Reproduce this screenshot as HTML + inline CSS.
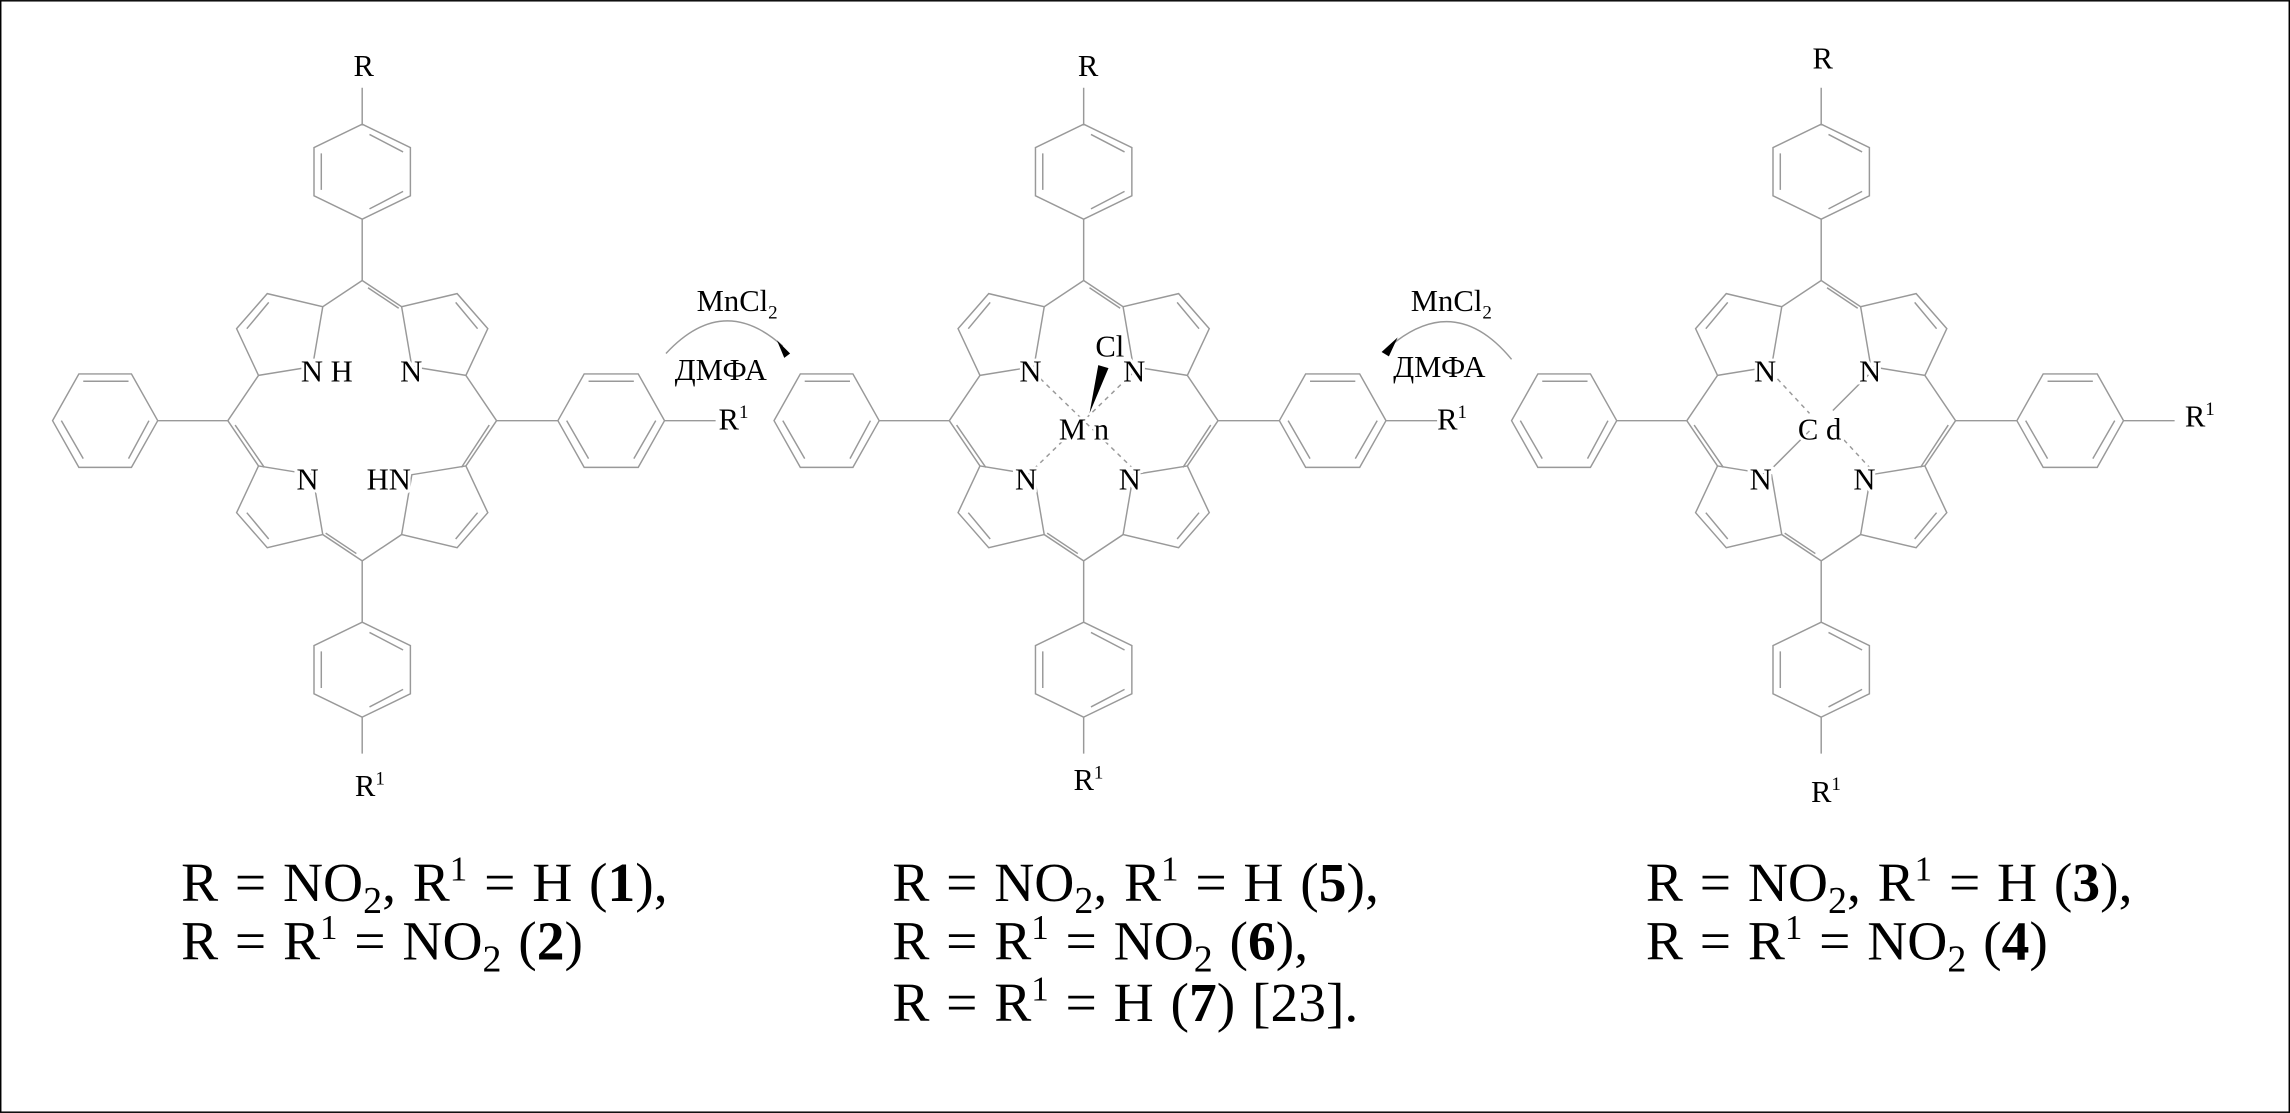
<!DOCTYPE html>
<html><head><meta charset="utf-8"><style>html,body{margin:0;padding:0;background:#fff}svg{display:block}</style></head><body>
<svg xmlns="http://www.w3.org/2000/svg" width="2290" height="1113" viewBox="0 0 1568 762" font-family="Liberation Serif, serif">
<rect x="0.5" y="0.5" width="1567" height="761" fill="#fff" stroke="#000" stroke-width="1"/>
<defs>
<g id="q" fill="none" stroke="#999" stroke-width="1">
  <path d="M0,-96 L-27,-78 L-65,-87 L-86,-63 L-71,-31 L-92,0"/>
  <path d="M-27,-78 L-34,-37 L-71,-31"/>
  <path d="M-64,-81 L-79,-63"/>
</g>
<g id="sk" fill="none" stroke="#999" stroke-width="1">
  <use href="#q"/>
  <use href="#q" transform="scale(-1,1)"/>
  <use href="#q" transform="scale(1,-1)"/>
  <use href="#q" transform="scale(-1,-1)"/>
  <path d="M4,-91 L25,-77 M-87,3 L-67,32 M87,3 L68,32 M-4,91 L-25,77"/>
  <path d="M0,-96 V-138 M0,-203 V-228 M0,96 V138 M0,203 V228 M-92,0 H-140 M92,0 H134 M207,0 H242"/>
  <path d="M0,-203 L33,-187 L33,-154 L0,-138 L-33,-154 L-33,-187 Z M5,-196 L28,-184 M28,-157 L5,-145 M-28,-158 V-183"/>
  <path d="M0,203 L33,187 L33,154 L0,138 L-33,154 L-33,187 Z M5,196 L28,184 M28,157 L5,145 M-28,158 V183"/>
  <path d="M-140,0 L-158,-32 L-194,-32 L-212,0 L-194,32 L-158,32 Z M-160,-27 L-191,-27 M-206,0 L-191,26 M-146,0 L-160,26"/>
  <path d="M134,0 L152,-32 L189,-32 L207,0 L189,32 L152,32 Z M155,-27 L186,-27 M140,0 L155,26 M201,0 L186,26"/>
</g>
</defs>
<g font-size="21" fill="#000" stroke="#fff" stroke-width="4" paint-order="stroke">
<g transform="translate(248,288)">
  <use href="#sk"/>
  <text x="-42" y="-27">N H</text><text x="26" y="-27">N</text>
  <text x="-45" y="47">N</text><text x="3" y="47">HN</text>
  <text x="-6" y="-236">R</text><text x="-5" y="257">R<tspan font-size="13" dy="-8">1</tspan></text>
  <text x="244" y="6">R<tspan font-size="13" dy="-8">1</tspan></text>
</g>
<g transform="translate(742,288)">
  <use href="#sk"/>
  <path d="M-34,-33 L0,0 M34,-33 L0,0 M-34,33 L0,0 M34,33 L0,0" stroke="#999" stroke-width="1" stroke-dasharray="3,3" fill="none"/>
  <polygon points="4,-5 10,-38 17,-36" fill="#000" stroke="none"/>
  <text x="-44" y="-27">N</text><text x="27" y="-27">N</text>
  <text x="-47" y="47">N</text><text x="24" y="47">N</text>
  <text x="8" y="-44">Cl</text><text x="-17" y="13">M n</text>
  <text x="-4" y="-236">R</text><text x="-7" y="253">R<tspan font-size="13" dy="-8">1</tspan></text>
  <text x="242" y="6">R<tspan font-size="13" dy="-8">1</tspan></text>
</g>
<g transform="translate(1247,288)">
  <use href="#sk"/>
  <path d="M-34,-33 L-8,-5 M34,33 L8,5" stroke="#999" stroke-width="1" stroke-dasharray="3,3" fill="none"/>
  <path d="M34,-33 L8,-7 M-34,33 L-8,7" stroke="#999" stroke-width="1" fill="none"/>
  <text x="-46" y="-27">N</text><text x="26" y="-27">N</text>
  <text x="-49" y="47">N</text><text x="22" y="47">N</text>
  <text x="-16" y="13">C d</text>
  <text x="-6" y="-241">R</text><text x="-7" y="261">R<tspan font-size="13" dy="-8">1</tspan></text>
  <text x="249" y="4">R<tspan font-size="13" dy="-8">1</tspan></text>
</g>
<text x="477" y="213">MnCl<tspan font-size="13" dy="5">2</tspan></text>
<text x="462" y="260">ДМФА</text>
<text x="966" y="213">MnCl<tspan font-size="13" dy="5">2</tspan></text>
<text x="954" y="258">ДМФА</text>
</g>
<path d="M456,242 Q495,200 536,237" fill="none" stroke="#999" stroke-width="1"/>
<polygon points="532,233 541,242 537,245" fill="#000"/>
<path d="M1035,246 Q997,200 953,236" fill="none" stroke="#999" stroke-width="1"/>
<polygon points="957,231 946,241 951,244" fill="#000"/>
<g font-size="38" fill="#000" word-spacing="2">
<text x="124" y="617">R = NO<tspan font-size="26" dy="8">2</tspan><tspan dy="-8">, R</tspan><tspan font-size="24" dy="-14">1</tspan><tspan dy="14"> = H (</tspan><tspan font-weight="bold">1</tspan>),</text>
<text x="124" y="657">R = R<tspan font-size="24" dy="-14">1</tspan><tspan dy="14"> = NO</tspan><tspan font-size="26" dy="8">2</tspan><tspan dy="-8"> (</tspan><tspan font-weight="bold">2</tspan>)</text>
<text x="611" y="617">R = NO<tspan font-size="26" dy="8">2</tspan><tspan dy="-8">, R</tspan><tspan font-size="24" dy="-14">1</tspan><tspan dy="14"> = H (</tspan><tspan font-weight="bold">5</tspan>),</text>
<text x="611" y="657">R = R<tspan font-size="24" dy="-14">1</tspan><tspan dy="14"> = NO</tspan><tspan font-size="26" dy="8">2</tspan><tspan dy="-8"> (</tspan><tspan font-weight="bold">6</tspan>),</text>
<text x="611" y="699">R = R<tspan font-size="24" dy="-14">1</tspan><tspan dy="14"> = H (</tspan><tspan font-weight="bold">7</tspan>) [23].</text>
<text x="1127" y="617">R = NO<tspan font-size="26" dy="8">2</tspan><tspan dy="-8">, R</tspan><tspan font-size="24" dy="-14">1</tspan><tspan dy="14"> = H (</tspan><tspan font-weight="bold">3</tspan>),</text>
<text x="1127" y="657">R = R<tspan font-size="24" dy="-14">1</tspan><tspan dy="14"> = NO</tspan><tspan font-size="26" dy="8">2</tspan><tspan dy="-8"> (</tspan><tspan font-weight="bold">4</tspan>)</text>
</g>
</svg>
</body></html>
